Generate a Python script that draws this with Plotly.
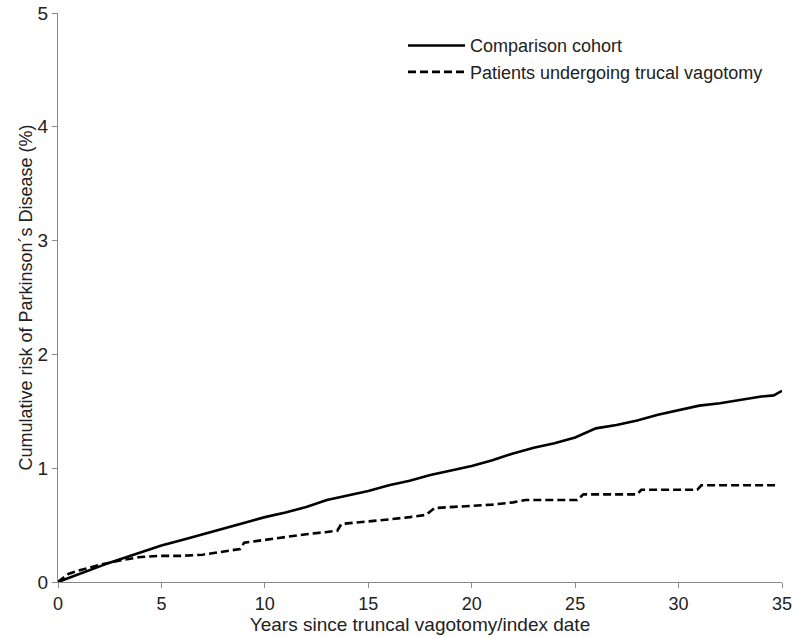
import plotly.graph_objects as go

# Comparison cohort (solid)
comp_years = [0, 0.5, 1, 1.5, 2, 2.5, 3, 4, 5, 6, 7, 8, 9, 10, 11, 12, 13, 14, 15, 16, 17, 18, 19, 20,
              21, 22, 23, 24, 25, 25.6, 26, 27, 28, 29, 30, 31, 32, 33, 34, 34.6, 35]
comp_risk = [0, 0.035, 0.07, 0.105, 0.14, 0.17, 0.20, 0.26, 0.32, 0.37, 0.42, 0.47, 0.52, 0.57,
             0.61, 0.66, 0.72, 0.76, 0.80, 0.85, 0.89, 0.94, 0.98, 1.02, 1.07, 1.13, 1.18, 1.22,
             1.27, 1.32, 1.35, 1.38, 1.42, 1.47, 1.51, 1.55, 1.57, 1.60, 1.63, 1.64, 1.68]

# Patients undergoing truncal vagotomy (dashed)
vag_years = [0, 0.5, 1, 2, 3, 4, 5, 6, 7, 8, 8.8, 9.0, 10, 11, 12, 13, 13.5, 13.7, 15, 16, 17,
             17.8, 18.2, 19, 20, 21, 22, 22.6, 25.1, 25.4, 28.0, 28.2, 30.9, 31.1, 34.8]
vag_risk = [0, 0.07, 0.10, 0.15, 0.19, 0.22, 0.23, 0.23, 0.24, 0.27, 0.29, 0.345, 0.37, 0.40,
            0.42, 0.44, 0.45, 0.51, 0.53, 0.55, 0.57, 0.59, 0.65, 0.66, 0.67, 0.68, 0.70, 0.72,
            0.72, 0.77, 0.77, 0.81, 0.81, 0.85, 0.85]

x_ticks = [0, 5, 10, 15, 20, 25, 30, 35]
y_ticks = [0, 1, 2, 3, 4, 5]

font_family = "Liberation Sans, Arial, sans-serif"
axis_grey = "#8a8a8a"

fig = go.Figure()
fig.add_trace(go.Scatter(x=comp_years, y=comp_risk, mode="lines", name="Comparison cohort",
                         line=dict(color="black", width=2.6)))
fig.add_trace(go.Scatter(x=vag_years, y=vag_risk, mode="lines",
                         name="Patients undergoing trucal vagotomy",
                         line=dict(color="black", width=2.6, dash="8px,4px")))

fig.update_layout(
    width=795, height=637,
    margin=dict(l=58, r=13, t=13, b=55),
    paper_bgcolor="white", plot_bgcolor="white",
    font=dict(family=font_family, color="#222222", size=19),
    legend=dict(x=0.4765, y=0.975, xanchor="left", yanchor="top",
                bgcolor="rgba(0,0,0,0)", font=dict(size=18),
                itemwidth=57, tracegroupgap=0),
    showlegend=True,
)
fig.update_xaxes(range=[0, 35], tickvals=x_ticks, showgrid=False, zeroline=False,
                 showline=True, linecolor=axis_grey, linewidth=1.2,
                 ticks="outside", ticklen=5, tickcolor=axis_grey,
                 tickfont=dict(size=18), automargin=False,
                 title=dict(text="Years since truncal vagotomy/index date", font=dict(size=19),
                            standoff=2))
fig.update_yaxes(range=[0, 5], tickvals=y_ticks, showgrid=False, zeroline=False,
                 showline=True, linecolor=axis_grey, linewidth=1.2,
                 ticks="outside", ticklen=5, tickcolor=axis_grey,
                 tickfont=dict(size=19), automargin=False,
                 title=dict(text="Cumulative risk of Parkinson´s Disease (%)", font=dict(size=18),
                            standoff=0))

fig.write_html("out.html", config={"displayModeBar": False},
               post_script="document.body.style.margin='0px';")
